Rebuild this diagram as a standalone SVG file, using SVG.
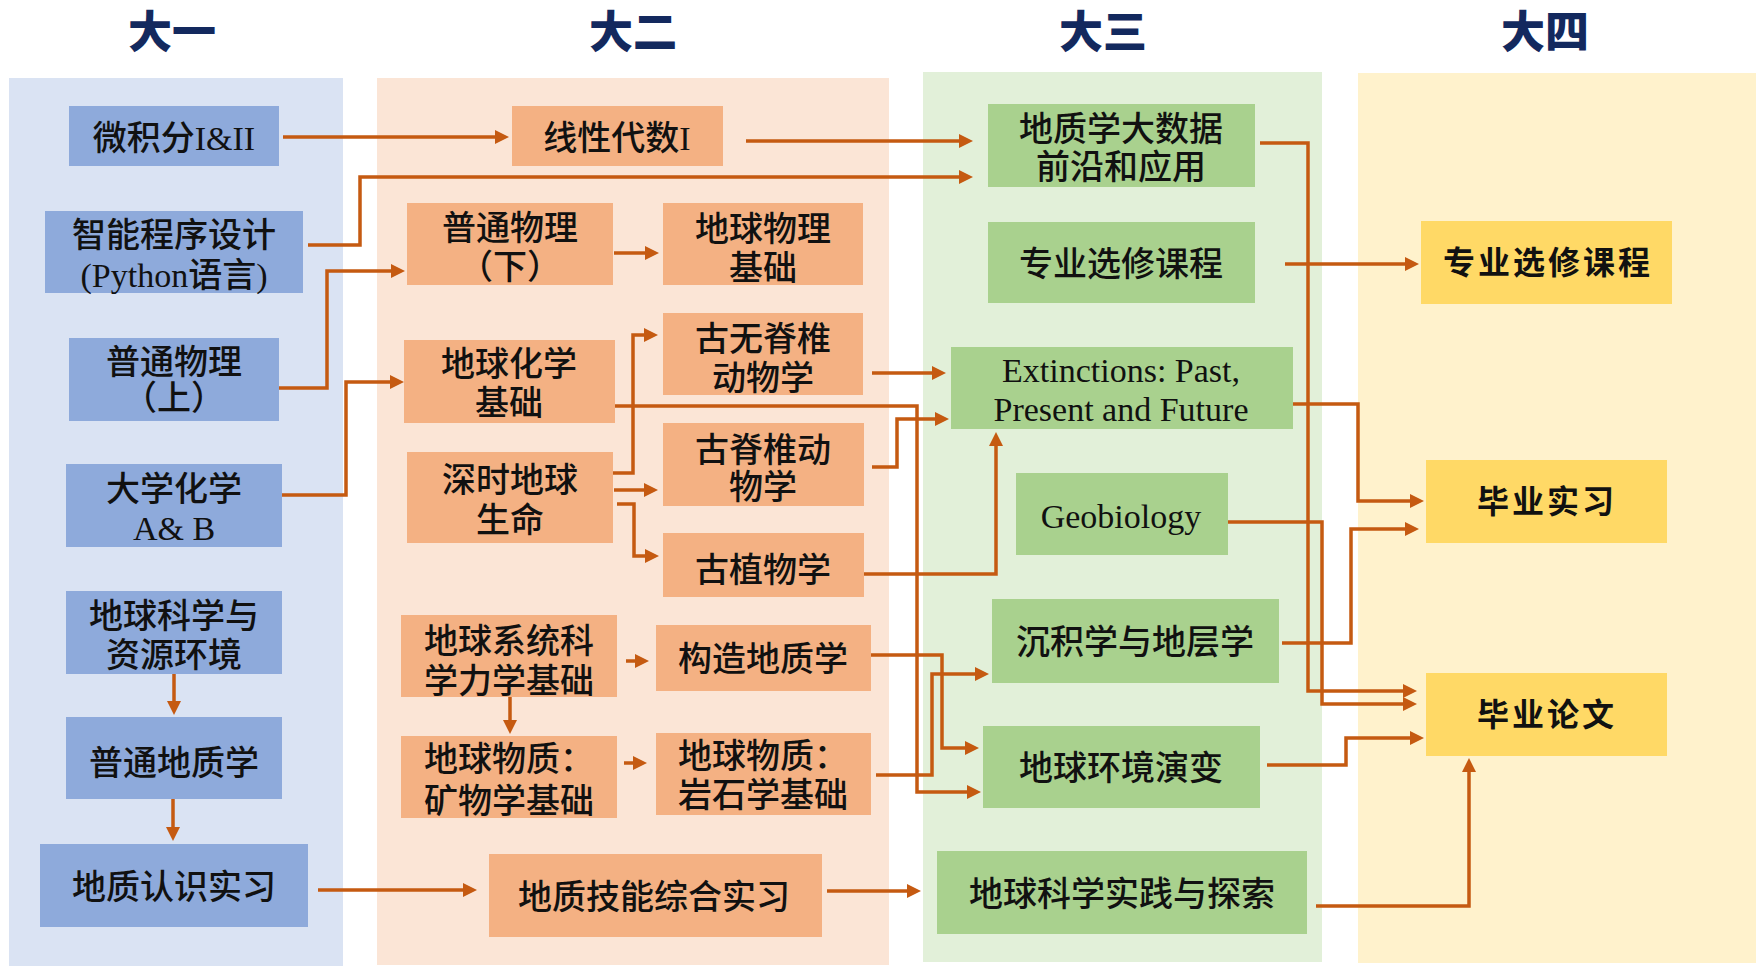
<svg xmlns="http://www.w3.org/2000/svg" width="1756" height="968" viewBox="0 0 1756 968">
<style>
.title{font-family:"Noto Sans CJK SC","Liberation Sans",sans-serif;font-size:44px;font-weight:900;fill:#13295E;text-anchor:middle}
.t{font-family:"Liberation Serif","Noto Sans CJK SC",serif;font-size:34px;font-weight:500;fill:#111;text-anchor:middle}
.ty{font-family:"Noto Sans CJK SC","Liberation Sans",sans-serif;font-size:32px;font-weight:700;fill:#111;text-anchor:middle;letter-spacing:3px}
.b1{fill:#8EAADB}.b2{fill:#F4B183}.b3{fill:#A9D18E}.b4{fill:#FFD966}
.c{fill:none;stroke:#C55A11;stroke-width:3.5;marker-end:url(#ah)}
</style>
<defs>
<marker id="ah" markerWidth="14" markerHeight="14" refX="4" refY="7" orient="auto" markerUnits="userSpaceOnUse"><path d="M0,0 L14,7 L0,14 z" fill="#C55A11"/></marker>
</defs>
<rect width="1756" height="968" fill="#FFFFFF"/>
<g id="columns">
<rect x="9" y="78" width="334" height="888" fill="#DAE3F3"/>
<rect x="377" y="78" width="512" height="887" fill="#FBE5D6"/>
<rect x="923" y="72" width="399" height="890" fill="#E2F0D9"/>
<rect x="1358" y="73" width="398" height="890" fill="#FFF2CC"/>
</g>
<g id="titles">
<text class="title" x="172" y="48">大一</text>
<text class="title" x="633" y="48">大二</text>
<text class="title" x="1103" y="48">大三</text>
<text class="title" x="1545" y="48">大四</text>
</g>
<g id="connectors">
<path class="c" d="M283,137 H499"/>
<path class="c" d="M308,245 H360 V177 H963"/>
<path class="c" d="M276,388 H327 V271 H395"/>
<path class="c" d="M282,495 H346 V382 H394"/>
<path class="c" d="M174,674 V705"/>
<path class="c" d="M173,799 V831"/>
<path class="c" d="M318,890 H467"/>
<path class="c" d="M614,253 H649"/>
<path class="c" d="M746,141 H963"/>
<path class="c" d="M613,473 H633 V335 H648"/>
<path class="c" d="M614,490 H648"/>
<path class="c" d="M617,504 H634 V556 H649"/>
<path class="c" d="M872,373 H936"/>
<path class="c" d="M872,467 H897 V419 H939"/>
<path class="c" d="M615,406 H917 V792 H971"/>
<path class="c" d="M864,574 H996 V442"/>
<path class="c" d="M626,661 H639"/>
<path class="c" d="M510,697 V724"/>
<path class="c" d="M624,763 H637"/>
<path class="c" d="M871,655 H942 V748 H969"/>
<path class="c" d="M876,775 H932 V674 H979"/>
<path class="c" d="M827,891 H911"/>
<path class="c" d="M1260,143 H1308 V691 H1407"/>
<path class="c" d="M1285,264 H1409"/>
<path class="c" d="M1290,404 H1358 V501 H1414"/>
<path class="c" d="M1227,522 H1322 V704 H1407"/>
<path class="c" d="M1282,643 H1351 V529 H1409"/>
<path class="c" d="M1267,765 H1346 V738 H1414"/>
<path class="c" d="M1316,906 H1469 V768"/>
</g>
<g id="n_calc"><rect class="b1" x="69" y="106" width="210" height="60"/><text class="t" x="174" y="150">微积分I&amp;II</text></g>
<g id="n_python"><rect class="b1" x="45" y="211" width="258" height="82"/><text class="t" x="174" y="247">智能程序设计</text><text class="t" x="174" y="287">(Python语言)</text></g>
<g id="n_phys1"><rect class="b1" x="69" y="338" width="210" height="83"/><text class="t" x="174" y="374">普通物理</text><text class="t" x="174" y="410">（上）</text></g>
<g id="n_chem"><rect class="b1" x="66" y="464" width="216" height="83"/><text class="t" x="174" y="501">大学化学</text><text class="t" x="174" y="540">A&amp; B</text></g>
<g id="n_earthres"><rect class="b1" x="66" y="591" width="216" height="83"/><text class="t" x="174" y="628">地球科学与</text><text class="t" x="174" y="667">资源环境</text></g>
<g id="n_geol"><rect class="b1" x="66" y="717" width="216" height="82"/><text class="t" x="174" y="775">普通地质学</text></g>
<g id="n_fieldtrip"><rect class="b1" x="40" y="844" width="268" height="83"/><text class="t" x="174" y="899">地质认识实习</text></g>
<g id="n_linalg"><rect class="b2" x="512" y="106" width="211" height="60"/><text class="t" x="617" y="150">线性代数I</text></g>
<g id="n_phys2"><rect class="b2" x="407" y="203" width="206" height="82"/><text class="t" x="510" y="240">普通物理</text><text class="t" x="510" y="279">（下）</text></g>
<g id="n_geophys"><rect class="b2" x="663" y="203" width="200" height="82"/><text class="t" x="763" y="241">地球物理</text><text class="t" x="763" y="280">基础</text></g>
<g id="n_paleoinv"><rect class="b2" x="663" y="313" width="200" height="82"/><text class="t" x="763" y="351">古无脊椎</text><text class="t" x="763" y="390">动物学</text></g>
<g id="n_geochem"><rect class="b2" x="404" y="340" width="211" height="83"/><text class="t" x="509" y="376">地球化学</text><text class="t" x="509" y="415">基础</text></g>
<g id="n_deeptime"><rect class="b2" x="407" y="452" width="206" height="91"/><text class="t" x="510" y="492">深时地球</text><text class="t" x="510" y="532">生命</text></g>
<g id="n_paleovert"><rect class="b2" x="663" y="423" width="201" height="83"/><text class="t" x="763" y="462">古脊椎动</text><text class="t" x="763" y="499">物学</text></g>
<g id="n_paleobot"><rect class="b2" x="663" y="533" width="201" height="64"/><text class="t" x="763" y="582">古植物学</text></g>
<g id="n_earthsys"><rect class="b2" x="401" y="615" width="216" height="82"/><text class="t" x="509" y="653">地球系统科</text><text class="t" x="509" y="693">学力学基础</text></g>
<g id="n_struct"><rect class="b2" x="656" y="625" width="215" height="66"/><text class="t" x="763" y="671">构造地质学</text></g>
<g id="n_mineral"><rect class="b2" x="401" y="736" width="216" height="82"/><text class="t" x="509" y="771">地球物质：</text><text class="t" x="509" y="813">矿物学基础</text></g>
<g id="n_petro"><rect class="b2" x="656" y="733" width="215" height="82"/><text class="t" x="763" y="768">地球物质：</text><text class="t" x="763" y="807">岩石学基础</text></g>
<g id="n_skills"><rect class="b2" x="489" y="854" width="333" height="83"/><text class="t" x="654" y="909">地质技能综合实习</text></g>
<g id="n_bigdata"><rect class="b3" x="988" y="104" width="267" height="83"/><text class="t" x="1121" y="141">地质学大数据</text><text class="t" x="1121" y="179">前沿和应用</text></g>
<g id="n_elective3"><rect class="b3" x="988" y="222" width="267" height="81"/><text class="t" x="1121" y="276">专业选修课程</text></g>
<g id="n_extinct"><rect class="b3" x="951" y="347" width="342" height="82"/><text class="t" x="1121" y="382">Extinctions: Past,</text><text class="t" x="1121" y="421">Present and Future</text></g>
<g id="n_geobio"><rect class="b3" x="1016" y="473" width="212" height="82"/><text class="t" x="1121" y="528">Geobiology</text></g>
<g id="n_sedi"><rect class="b3" x="992" y="599" width="287" height="84"/><text class="t" x="1135" y="654">沉积学与地层学</text></g>
<g id="n_envevo"><rect class="b3" x="983" y="726" width="277" height="82"/><text class="t" x="1121" y="780">地球环境演变</text></g>
<g id="n_practice"><rect class="b3" x="937" y="851" width="370" height="83"/><text class="t" x="1122" y="906">地球科学实践与探索</text></g>
<g id="n_elective4"><rect class="b4" x="1421" y="221" width="251" height="83"/><text class="ty" x="1548" y="274">专业选修课程</text></g>
<g id="n_intern"><rect class="b4" x="1426" y="460" width="241" height="83"/><text class="ty" x="1547" y="513">毕业实习</text></g>
<g id="n_thesis"><rect class="b4" x="1426" y="673" width="241" height="83"/><text class="ty" x="1547" y="726">毕业论文</text></g>
</svg>
